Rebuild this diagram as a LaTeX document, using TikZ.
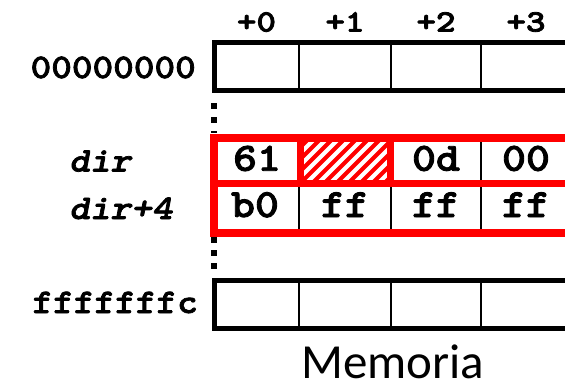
\documentclass[tikz,border=0pt]{standalone}
\usepackage{fontspec}
\newfontfamily\cmono{lmmonolt10-bold.otf}[FakeStretch=1.14, FakeBold=2.2, ItalicFont=lmmonolt10-boldoblique.otf, ItalicFeatures={FakeStretch=1.14, FakeBold=2.2}]
\newfontfamily\hmono{lmmonolt10-bold.otf}[FakeStretch=1.2, FakeBold=2.6]
\newfontfamily\calib{Carlito}
\begin{document}
\begin{tikzpicture}[x=1pt,y=-1pt,
  mono/.style={font=\cmono\fontsize{34.5}{34.5}\selectfont, inner sep=0pt},
  cell/.style={font=\cmono\fontsize{40}{40}\selectfont, inner sep=0pt, anchor=base},
  head/.style={font=\hmono\fontsize{31}{31}\selectfont, inner sep=0pt, anchor=base},
  blk/.style={line width=5pt, black},
  thinline/.style={line width=2pt, black},
  redb/.style={line width=8pt, red},
  dotline/.style={line width=6pt, black}]
\useasboundingbox (0,0) rectangle (565,388);
% headers
\node[head] (h0) at (256.5,31.5) {+0};
\node[head] (h1) at (345,31.5) {+1};
\node[head] (h2) at (436,31.5) {+2};
\node[head] (h3) at (526,31.5) {+3};
% top row
\draw[blk] (575,42.5) -- (214.5,42.5) -- (214.5,90) -- (575,90);
\foreach \x in {299,391,481} \draw[thinline] (\x,42.5) -- (\x,90);
\node[mono, anchor=base east] (a0) at (196,78) {00000000};
% dots
\draw[dotline, dash pattern=on 6pt off 8pt] (214,103) -- (214,133);
\draw[dotline, dash pattern=on 6pt off 7pt] (214,237) -- (214,270);
% hatched cell
\begin{scope}
\clip (300,137.5) rectangle (390,183.5);
\foreach \x in {240,252,...,396} \draw[red, line width=4pt] (\x,183.5) -- (\x+46,137.5);
\end{scope}
% thin dividers in red block
\draw[thinline] (481,137.5) -- (481,183.5);
\foreach \x in {299,391,481} \draw[thinline] (\x,183.5) -- (\x,232.5);
% red block
\draw[redb] (575,137.5) -- (214,137.5) -- (214,232.5) -- (575,232.5);
\draw[red, line width=7pt] (214,183.5) -- (575,183.5);
\draw[red, line width=7pt] (300,137.5) -- (300,183.5);
\draw[red, line width=7pt] (390,137.5) -- (390,183.5);
% cell texts
\node[cell] (c1) at (257,170.7) {61};
\node[cell] (c3) at (436,170.7) {0d};
\node[cell] (c4) at (526,170.7) {00};
\node[cell] (c5) at (255,217) {b0};
\node[cell] (c6) at (345,217) {ff};
\node[cell] (c7) at (436,217) {ff};
\node[cell] (c8) at (526,217) {ff};
\node[mono, anchor=base west] (d1) at (69,171.5) {\itshape dir};
\node[mono, anchor=base west] (d2) at (69,219) {\itshape dir+4};
% bottom row
\draw[blk] (575,280) -- (214.5,280) -- (214.5,328) -- (575,328);
\foreach \x in {299,391,481} \draw[thinline] (\x,280) -- (\x,328);
\node[mono, anchor=base east] (af) at (198,313) {fffffffc};
\node[font=\calib\fontsize{49}{49}\selectfont, anchor=base, inner sep=0pt] (mem) at (392.7,378.5) {Memoria};
\end{tikzpicture}
\end{document}
